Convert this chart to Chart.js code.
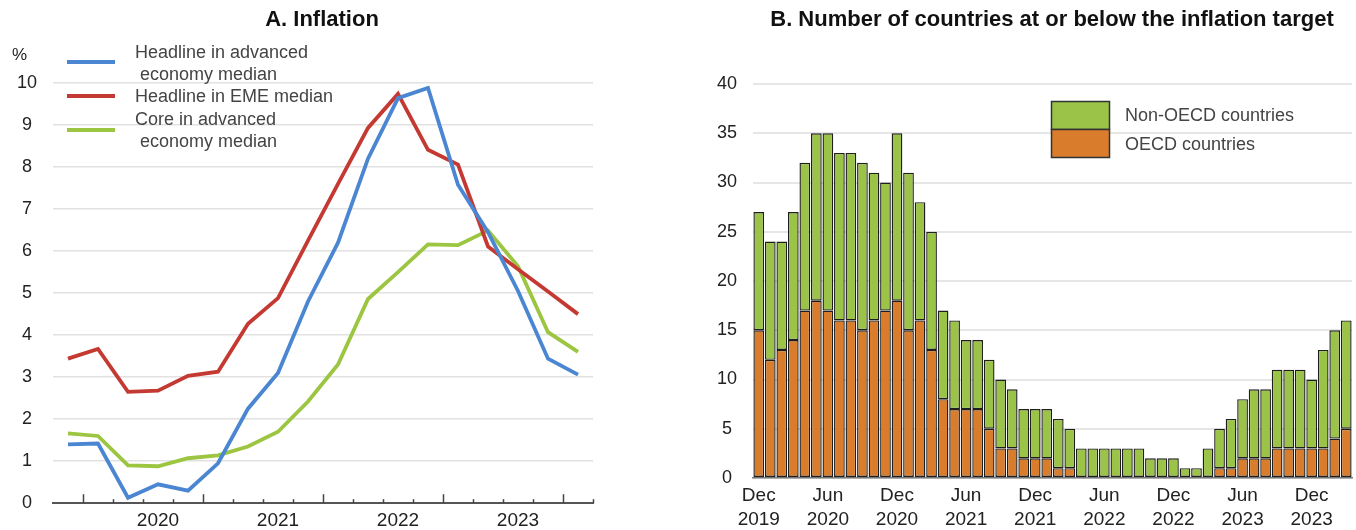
<!DOCTYPE html>
<html><head><meta charset="utf-8">
<script src="https://cdn.jsdelivr.net/npm/chart.js@4.4.1/dist/chart.umd.min.js"></script>
<style>
html,body{margin:0;padding:0;background:#fff;width:1356px;height:530px;overflow:hidden}
#a{position:absolute;left:0;top:0}
#b{position:absolute;left:660px;top:0}
</style></head><body>
<canvas id="a" width="620" height="530"></canvas>
<canvas id="b" width="696" height="530"></canvas>
<script>
// ---------- Panel A data ----------
const quarters = ['Q4 2019','Q1 2020','Q2 2020','Q3 2020','Q4 2020','Q1 2021','Q2 2021','Q3 2021','Q4 2021',
                  'Q1 2022','Q2 2022','Q3 2022','Q4 2022','Q1 2023','Q2 2023','Q3 2023','Q4 2023','Q1 2024'];
const yearTickLabels = {3:'2020', 7:'2021', 11:'2022', 15:'2023'};
const headlineAE  = [1.40,1.42,0.13,0.45,0.30,0.95,2.25,3.10,4.80,6.20,8.20,9.64,9.88,7.58,6.45,5.05,3.44,3.06];
const headlineEME = [3.44,3.67,2.65,2.68,3.03,3.13,4.27,4.88,6.25,7.60,8.93,9.74,8.41,8.06,6.11,5.57,5.04,4.50];
const coreAE      = [1.66,1.60,0.90,0.88,1.07,1.14,1.35,1.70,2.42,3.30,4.86,5.50,6.16,6.14,6.49,5.64,4.07,3.60];

// ---------- Panel B data ----------
const months = ['Dec 2019',
 'Jan 2020','Feb 2020','Mar 2020','Apr 2020','May 2020','Jun 2020','Jul 2020','Aug 2020','Sep 2020','Oct 2020','Nov 2020','Dec 2020',
 'Jan 2021','Feb 2021','Mar 2021','Apr 2021','May 2021','Jun 2021','Jul 2021','Aug 2021','Sep 2021','Oct 2021','Nov 2021','Dec 2021',
 'Jan 2022','Feb 2022','Mar 2022','Apr 2022','May 2022','Jun 2022','Jul 2022','Aug 2022','Sep 2022','Oct 2022','Nov 2022','Dec 2022',
 'Jan 2023','Feb 2023','Mar 2023','Apr 2023','May 2023','Jun 2023','Jul 2023','Aug 2023','Sep 2023','Oct 2023','Nov 2023','Dec 2023',
 'Jan 2024','Feb 2024','Mar 2024'];
const oecdCountries    = [15,12,13,14,17,18,17,16,16,15,16,17,18,15,16,13,8,7,7,7,5,3,3,2,2,2,1,1,0,0,0,0,0,0,0,0,0,0,0,0,1,1,2,2,2,3,3,3,3,3,4,5];
const nonOecdCountries = [12,12,11,13,15,17,18,17,17,17,15,13,17,16,12,12,9,9,7,7,7,7,6,5,5,5,5,4,3,3,3,3,3,3,2,2,2,1,1,3,4,5,6,7,7,8,8,8,7,10,11,11];
const monthTickLabels = {0:['Dec','2019'],6:['Jun','2020'],12:['Dec','2020'],18:['Jun','2021'],24:['Dec','2021'],
                         30:['Jun','2022'],36:['Dec','2022'],42:['Jun','2023'],48:['Dec','2023']};

const BLUE='#4a86d2', RED='#c43a32', GREEN='#9cc641', ORANGE='#d97d2c', BARGREEN='#9bc348';
const FONT='"Liberation Sans", Arial, Helvetica, sans-serif';
Chart.defaults.font.family = FONT;
Chart.defaults.color = '#222';
Chart.defaults.animation = false;

// ---------- Panel A ----------
const panelAPlugin = {
  id:'panelA',
  afterDatasetsDraw(chart){
    const ctx = chart.ctx, xs = chart.scales.x, ca = chart.chartArea;
    const step = xs.getPixelForValue(1) - xs.getPixelForValue(0);
    ctx.save();
    ctx.strokeStyle = '#444'; ctx.lineWidth = 1.5;
    for (let i = 0; i < quarters.length; i++) {
      const x = Math.round(xs.getPixelForValue(i) + step/2) + 0.5;
      const major = (i % 4 === 0) && i < quarters.length - 1;
      const len = major ? 9 : 4;
      ctx.beginPath(); ctx.moveTo(x, ca.bottom); ctx.lineTo(x, ca.bottom - len); ctx.stroke();
    }
    ctx.restore();
  },
  afterDraw(chart){
    const ctx = chart.ctx;
    ctx.save();
    ctx.fillStyle = '#111';
    ctx.font = 'bold 22px ' + FONT;
    ctx.textAlign = 'center'; ctx.textBaseline = 'middle';
    ctx.fillText('A. Inflation', 322, 20);
    ctx.font = '17px ' + FONT; ctx.fillStyle = '#222';
    ctx.textAlign = 'left';
    ctx.fillText('%', 12, 55);
    // legend
    const items = [
      {c:BLUE,  y:62,  lines:[['Headline in advanced',53],[' economy median',75]]},
      {c:RED,   y:96,  lines:[['Headline in EME median',97]]},
      {c:GREEN, y:130, lines:[['Core in advanced',120],[' economy median',142]]}
    ];
    ctx.font = '18px ' + FONT; ctx.fillStyle = '#444';
    items.forEach(it => {
      ctx.strokeStyle = it.c; ctx.lineWidth = 4;
      ctx.beginPath(); ctx.moveTo(67, it.y); ctx.lineTo(115, it.y); ctx.stroke();
      it.lines.forEach(l => ctx.fillText(l[0], 135, l[1]));
    });
    ctx.restore();
  }
};

new Chart(document.getElementById('a'), {
  type:'line',
  data:{
    labels: quarters,
    datasets:[
      {label:'Headline in advanced economy median', data:headlineAE, borderColor:BLUE},
      {label:'Headline in EME median', data:headlineEME, borderColor:RED},
      {label:'Core in advanced economy median', data:coreAE, borderColor:GREEN}
    ]
  },
  options:{
    responsive:false,
    layout:{padding:{left:0,right:27,top:83,bottom:0}},
    elements:{line:{borderWidth:3.8,tension:0,fill:false}, point:{radius:0}},
    plugins:{legend:{display:false}, tooltip:{enabled:false}, title:{display:false}},
    scales:{
      x:{
        offset:true,
        grid:{display:false, drawTicks:false},
        border:{display:true, color:'#555', width:2},
        ticks:{autoSkip:false, maxRotation:0, padding:6, font:{size:19}, color:'#222',
               callback:(v,i)=> yearTickLabels[i] || ''},
        afterFit:s=>{ s.height = 26; }
      },
      y:{
        min:0, max:10,
        grid:{color:'#e2e2e2', lineWidth:1.5, drawTicks:false},
        border:{display:false},
        ticks:{stepSize:1, padding:16, crossAlign:'center', font:{size:18}, color:'#222'},
        afterFit:s=>{ s.width = 53; }
      }
    }
  },
  plugins:[panelAPlugin]
});

// ---------- Panel B ----------
const panelBPlugin = {
  id:'panelB',
  afterDraw(chart){
    const ctx = chart.ctx;
    ctx.save();
    ctx.fillStyle = '#111';
    ctx.font = 'bold 22px ' + FONT;
    ctx.textAlign = 'center'; ctx.textBaseline = 'middle';
    ctx.fillText('B. Number of countries at or below the inflation target', 392, 20);
    // legend
    ctx.lineWidth = 1.5; ctx.strokeStyle = '#333';
    ctx.fillStyle = BARGREEN; ctx.fillRect(391.5, 101.5, 58, 28); ctx.strokeRect(391.5, 101.5, 58, 28);
    ctx.fillStyle = ORANGE;   ctx.fillRect(391.5, 129.5, 58, 28); ctx.strokeRect(391.5, 129.5, 58, 28);
    ctx.fillStyle = '#444'; ctx.font = '18px ' + FONT; ctx.textAlign = 'left';
    ctx.fillText('Non-OECD countries', 465, 116);
    ctx.fillText('OECD countries', 465, 145);
    ctx.restore();
  }
};

new Chart(document.getElementById('b'), {
  type:'bar',
  data:{
    labels: months,
    datasets:[
      {label:'OECD countries', data:oecdCountries, backgroundColor:ORANGE},
      {label:'Non-OECD countries', data:nonOecdCountries, backgroundColor:BARGREEN}
    ]
  },
  options:{
    responsive:false,
    layout:{padding:{left:0,right:4,top:84,bottom:0}},
    datasets:{bar:{categoryPercentage:1, barPercentage:0.93, borderColor:'#1f1f1f', borderWidth:1.4, borderSkipped:false}},
    plugins:{legend:{display:false}, tooltip:{enabled:false}, title:{display:false}},
    scales:{
      x:{
        stacked:true,
        grid:{display:false, drawTicks:false},
        border:{display:true, color:'#777', width:1.5},
        ticks:{autoSkip:false, maxRotation:0, padding:6, font:{size:19, lineHeight:'24px'}, color:'#222',
               callback:(v,i)=> monthTickLabels[i] || ''},
        afterFit:s=>{ s.height = 52; }
      },
      y:{
        stacked:true, min:0, max:40, z:1,
        grid:{color:'rgba(222,222,222,0.75)', lineWidth:2, drawTicks:false},
        border:{display:false},
        ticks:{stepSize:5, padding:16, crossAlign:'center', font:{size:18}, color:'#222'},
        afterFit:s=>{ s.width = 93; }
      }
    }
  },
  plugins:[panelBPlugin]
});
</script>
</body></html>
